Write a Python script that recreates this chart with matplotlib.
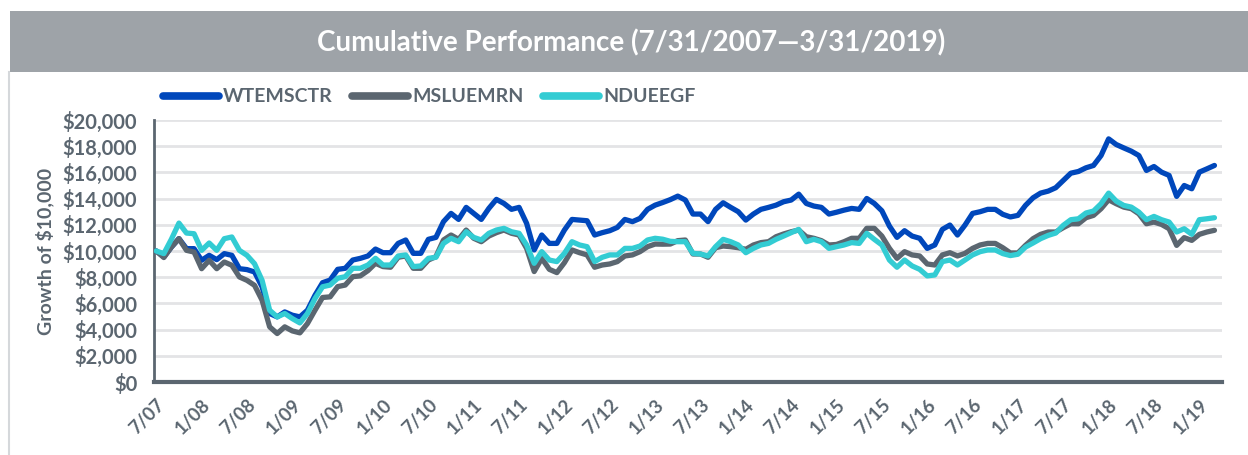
import matplotlib
matplotlib.use("Agg")
import matplotlib.pyplot as plt
from matplotlib.patches import Rectangle
from matplotlib.lines import Line2D

# monthly values, 7/31/2007 .. 3/31/2019
wtemsctr = [
    10000, 9550, 10300, 10950, 10180, 10180, 9290, 9670, 9340, 9800, 9670, 8650,
    8580, 8400, 7260, 5230, 4970, 5350, 5100, 4970, 5480, 6620, 7580, 7780,
    8600, 8680, 9310, 9440, 9620, 10150, 9870, 9870, 10580, 10840, 9820, 9820,
    10890, 11040, 12240, 12870, 12410, 13330, 12870, 12410, 13250, 13940, 13630, 13180,
    13330, 12110, 10080, 11220, 10580, 10580, 11600, 12410, 12360, 12310, 11220, 11400,
    11550, 11800, 12410, 12240, 12490, 13180, 13500, 13700, 13920, 14190, 13890, 12820,
    12820, 12240, 13180, 13680, 13330, 13000, 12360, 12820, 13180, 13330, 13500, 13760,
    13890, 14340, 13630, 13430, 13330, 12820, 12960, 13120, 13250, 13180, 14010, 13630,
    13070, 11900, 11040, 11550, 11140, 10970, 10200, 10460, 11650, 11980, 11220, 11980,
    12870, 13000, 13180, 13180, 12800, 12600, 12720, 13480, 14060, 14420, 14570, 14830,
    15380, 15940, 16070, 16350, 16530, 17290, 18560, 18130, 17870, 17620, 17290, 16150,
    16450, 16020, 15770, 14170, 15000, 14750, 16020, 16270, 16530,
]
msluemrn = [
    10000, 9500, 10300, 10940, 10050, 9920, 8650, 9290, 8650, 9160, 8910, 8020,
    7760, 7380, 6240, 4210, 3700, 4210, 3900, 3750, 4460, 5480, 6450, 6500,
    7280, 7400, 8040, 8100, 8500, 9060, 8810, 8760, 9520, 9620, 8680, 8680,
    9310, 9570, 10840, 11220, 10890, 11600, 10970, 10710, 11140, 11400, 11600, 11350,
    11220, 10200, 8430, 9440, 8600, 8350, 9110, 10080, 9870, 9700, 8760, 8930,
    9010, 9190, 9620, 9700, 9950, 10330, 10530, 10520, 10530, 10790, 10840, 9770,
    9770, 9520, 10250, 10380, 10330, 10250, 10130, 10460, 10640, 10710, 11090, 11300,
    11470, 11600, 11090, 10970, 10790, 10460, 10500, 10710, 10970, 10970, 11730, 11730,
    11140, 10200, 9440, 9950, 9700, 9620, 9010, 8930, 9700, 9870, 9620, 9820,
    10200, 10460, 10580, 10580, 10250, 9850, 9850, 10430, 10940, 11270, 11450, 11450,
    11780, 12080, 12080, 12540, 12720, 13230, 13910, 13610, 13350, 13230, 12840, 12080,
    12210, 12030, 11700, 10430, 11020, 10810, 11270, 11450, 11580,
]
ndueegf = [
    10000, 9800, 10900, 12130, 11370, 11320, 10050, 10610, 10050, 10940, 11070, 10050,
    9670, 9030, 7760, 5480, 4970, 5230, 4840, 4510, 5230, 6370, 7270, 7400,
    7920, 8040, 8680, 8680, 8930, 9440, 8930, 8930, 9620, 9700, 8810, 8860,
    9440, 9520, 10580, 10970, 10710, 11470, 11040, 10840, 11350, 11600, 11730, 11470,
    11350, 10460, 9060, 9950, 9310, 9190, 9820, 10710, 10460, 10330, 9190, 9520,
    9700, 9700, 10200, 10200, 10380, 10840, 10970, 10900, 10740, 10710, 10710, 9820,
    9770, 9620, 10330, 10890, 10710, 10460, 9870, 10200, 10460, 10580, 10890, 11140,
    11400, 11650, 10710, 10890, 10710, 10200, 10330, 10460, 10640, 10580, 11350, 10890,
    10460, 9310, 8760, 9310, 8860, 8600, 8100, 8170, 9190, 9310, 8930, 9310,
    9700, 9950, 10080, 10080, 9800, 9650, 9750, 10300, 10610, 10940, 11190, 11370,
    11960, 12390, 12460, 12900, 13050, 13610, 14420, 13810, 13480, 13350, 12970, 12390,
    12640, 12390, 12210, 11450, 11700, 11270, 12390, 12460, 12540,
]
series_names = ["WTEMSCTR", "MSLUEMRN", "NDUEEGF"]
series_colors = ["#0047BB", "#5B6670", "#33CCD3"]
tick_labels = ["7/07", "1/08", "7/08", "1/09", "7/09", "1/10", "7/10", "1/11",
               "7/11", "1/12", "7/12", "1/13", "7/13", "1/14", "7/14", "1/15",
               "7/15", "1/16", "7/16", "1/17", "7/17", "1/18", "7/18", "1/19"]
y_ticks = list(range(0, 20001, 2000))

TEXT = "#5B6670"
plt.rcParams["font.family"] = ["Lato", "DejaVu Sans"]

W, H = 1248, 455
fig = plt.figure(figsize=(W / 100, H / 100), dpi=100)

# header band and frame
fig.add_artist(Rectangle((10 / W, 1 - 72 / H), 1 - 10 / W, 61 / H,
                         transform=fig.transFigure, facecolor="#9EA3A8",
                         edgecolor="none"))
fig.add_artist(Line2D([9 / W, 9 / W], [0, 1 - 72 / H], transform=fig.transFigure,
                      color="#D5D8DB", lw=1.5))
fig.text(0.506, 1 - 43 / H, "Cumulative Performance (7/31/2007\u20143/31/2019)",
         ha="center", va="center", color="white", fontsize=20, fontweight="bold")

ax = fig.add_axes([154 / W, 1 - 382 / H, (1222 - 154) / W, (382 - 120) / H])
x = list(range(len(wtemsctr)))
for vals, name, col in zip([wtemsctr, msluemrn, ndueegf], series_names, series_colors):
    ax.plot(x, vals, color=col, lw=3.8, label=name, solid_joinstyle="round",
            solid_capstyle="round", zorder=3)

ax.set_xlim(-0.3, 141)
ax.set_ylim(0, 20000)
ax.set_yticks(y_ticks)
ax.set_yticklabels([f"${v:,}" for v in y_ticks])
ax.set_xticks(range(0, 6 * len(tick_labels), 6))
ax.set_xticklabels(tick_labels, rotation=45, ha="right", va="top",
                   rotation_mode="anchor")
ax.tick_params(axis="y", length=0, colors=TEXT, labelsize=14.5, pad=12)
ax.tick_params(axis="x", length=0, colors=TEXT, labelsize=13.5, pad=10)
for lab in ax.get_xticklabels() + ax.get_yticklabels():
    lab.set_fontweight("bold")
ax.grid(axis="y", color="#E3E4E6", lw=2, zorder=0)
ax.set_axisbelow(True)
for s in ["top", "right"]:
    ax.spines[s].set_visible(False)
ax.spines["left"].set_color(TEXT)
ax.spines["left"].set_linewidth(2)
ax.spines["bottom"].set_color(TEXT)
ax.spines["bottom"].set_linewidth(3)
ax.set_ylabel("Growth of $10,000", color=TEXT, fontsize=14, fontweight="bold",
              labelpad=6)

leg = fig.legend(loc="center left", bbox_to_anchor=(145 / W, 1 - 97 / H), ncol=3,
                 frameon=False, handlelength=2.9, handletextpad=0.2,
                 columnspacing=1.0, prop={"weight": "bold", "size": 14})
for t in leg.get_texts():
    t.set_color(TEXT)
for h in leg.legend_handles:
    h.set_linewidth(5.5)

fig.savefig("out.png", dpi=100)
